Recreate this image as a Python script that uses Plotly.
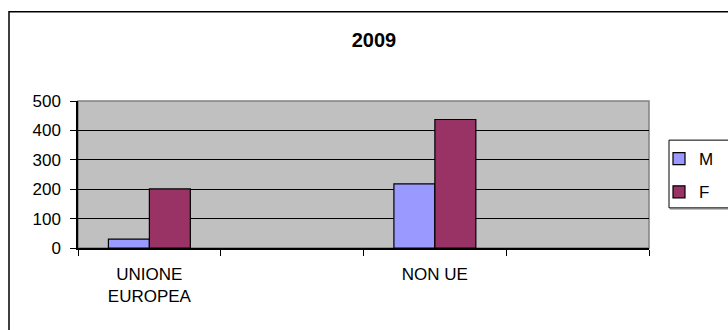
import plotly.graph_objects as go

# Group labels and bar values
groups = ["UNIONE<br>EUROPEA", "NON UE"]
group_pos = [0, 2]              # slots 1 and 3 of four category slots
slot_edges = [-0.5, 0.5, 1.5, 2.5, 3.5]
values_m = [30, 218]
values_f = [201, 437]
series_names = ["M", "F"]
y_ticks = [0, 100, 200, 300, 400, 500]

W, H = 728, 330
PL, PR, PT, PB = 78, 649, 100.7, 248.3  # plot-area edges in pixels


def px_x(x):
    return (x - PL) / (PR - PL)


def px_y(y):
    return (PB - y) / (PB - PT)


FONT = "Liberation Sans, Arial, sans-serif"
bar_w = 0.287

fig = go.Figure()
fig.add_trace(go.Bar(
    x=group_pos, y=values_m, name=series_names[0], legendgroup="m",
    width=bar_w, offset=-bar_w,
    marker=dict(color="#9999FF", line=dict(color="#000000", width=1.2)),
))
fig.add_trace(go.Bar(
    x=group_pos, y=values_f, name=series_names[1], legendgroup="f",
    width=bar_w, offset=0,
    marker=dict(color="#993366", line=dict(color="#000000", width=1.2)),
))
# invisible helper trace so the label axis is drawn
fig.add_trace(go.Scatter(x=group_pos, y=[0, 0], xaxis="x2", mode="markers",
                         marker=dict(opacity=0), showlegend=False,
                         hoverinfo="skip"))

shapes = [
    # outer chart frame (runs off the right/bottom edge)
    dict(type="rect", xref="paper", yref="paper",
         x0=px_x(9), x1=px_x(780), y0=px_y(380), y1=px_y(11),
         line=dict(color="#000000", width=1.5), fillcolor="rgba(0,0,0,0)",
         layer="below"),
    # plot-area frame (grey on top/right)
    dict(type="rect", xref="paper", yref="paper",
         x0=0, x1=1, y0=0, y1=1,
         line=dict(color="#808080", width=1.5), fillcolor="#C0C0C0",
         layer="below"),
    # legend box
    dict(type="rect", xref="paper", yref="paper",
         x0=px_x(669), x1=px_x(780), y0=px_y(208), y1=px_y(140),
         line=dict(color="#000000", width=1), fillcolor="rgba(0,0,0,0)"),
    dict(type="line", xref="paper", yref="paper",
         x0=px_x(670), x1=px_x(780), y0=px_y(209), y1=px_y(209),
         line=dict(color="#808080", width=1.5)),
]

fig.update_layout(
    width=W, height=H,
    margin=dict(l=PL, r=W - PR, t=PT, b=H - PB, pad=0, autoexpand=False),
    paper_bgcolor="#FFFFFF",
    plot_bgcolor="rgba(0,0,0,0)",
    barmode="overlay",
    font=dict(family=FONT, size=16, color="#000000"),
    title=dict(text="<b>2009</b>", font=dict(family=FONT, size=20, color="#000000"),
               xref="paper", x=px_x(374), xanchor="center",
               yref="container", y=1 - 40 / H, yanchor="middle"),
    showlegend=True,
    legend=dict(x=px_x(659), xanchor="left", y=px_y(141), yanchor="top",
                bgcolor="rgba(0,0,0,0)", borderwidth=0,
                font=dict(family=FONT, size=17, color="#000000"),
                tracegroupgap=8, itemwidth=30),
    shapes=shapes,
    xaxis=dict(range=[-0.5, 3.5], tickvals=slot_edges, showticklabels=False,
               ticks="outside", ticklen=6, tickcolor="#000000", showgrid=False,
               showline=True, linecolor="#000000", linewidth=1.5,
               zeroline=False, fixedrange=True),
    xaxis2=dict(range=[-0.5, 3.5], overlaying="x", side="bottom",
                tickvals=group_pos, ticktext=groups, ticks="", showgrid=False,
                showline=False, zeroline=False, ticklabelstandoff=14,
                tickfont=dict(family=FONT, size=17), fixedrange=True),
    yaxis=dict(range=[0, 500], tickvals=y_ticks, ticks="outside", ticklen=6,
               tickcolor="#000000", showgrid=True, gridcolor="#000000",
               gridwidth=1, showline=True, linecolor="#000000", linewidth=1.5,
               zeroline=False, ticklabelstandoff=6,
               tickfont=dict(family=FONT, size=17)),
)

fig.write_html("out.html")
